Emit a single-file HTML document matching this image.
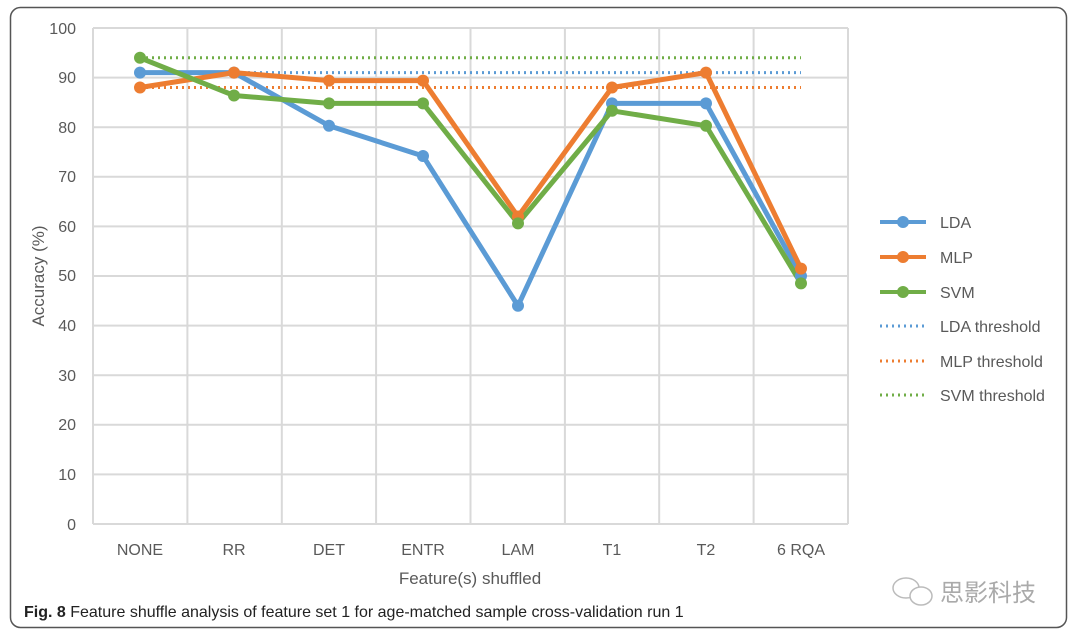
<!DOCTYPE html>
<html><head><meta charset="utf-8"><style>
body{margin:0;background:#fff;width:1080px;height:639px;overflow:hidden;font-family:"Liberation Sans","Noto Sans CJK SC",sans-serif}
</style></head><body>
<svg width="1080" height="639" xmlns="http://www.w3.org/2000/svg" font-family="Liberation Sans, Noto Sans CJK SC, sans-serif">
<rect x="10.5" y="7.5" width="1056" height="620" rx="10" fill="#fff" stroke="#555" stroke-width="1.5"/>
<g stroke="#d9d9d9" stroke-width="2" fill="none">
<line x1="93" y1="28" x2="848" y2="28"/><line x1="93" y1="77.6" x2="848" y2="77.6"/><line x1="93" y1="127.2" x2="848" y2="127.2"/><line x1="93" y1="176.8" x2="848" y2="176.8"/><line x1="93" y1="226.4" x2="848" y2="226.4"/><line x1="93" y1="276" x2="848" y2="276"/><line x1="93" y1="325.6" x2="848" y2="325.6"/><line x1="93" y1="375.2" x2="848" y2="375.2"/><line x1="93" y1="424.8" x2="848" y2="424.8"/><line x1="93" y1="474.4" x2="848" y2="474.4"/><line x1="93" y1="524" x2="848" y2="524"/>
<line x1="93" y1="28" x2="93" y2="524"/><line x1="187.4" y1="28" x2="187.4" y2="524"/><line x1="281.8" y1="28" x2="281.8" y2="524"/><line x1="376.1" y1="28" x2="376.1" y2="524"/><line x1="470.5" y1="28" x2="470.5" y2="524"/><line x1="564.9" y1="28" x2="564.9" y2="524"/><line x1="659.2" y1="28" x2="659.2" y2="524"/><line x1="753.6" y1="28" x2="753.6" y2="524"/><line x1="848" y1="28" x2="848" y2="524"/>
</g>
<g font-size="16" fill="#595959" text-anchor="end">
<text x="76" y="34">100</text><text x="76" y="83">90</text><text x="76" y="133">80</text><text x="76" y="182">70</text><text x="76" y="232">60</text><text x="76" y="281">50</text><text x="76" y="331">40</text><text x="76" y="381">30</text><text x="76" y="430">20</text><text x="76" y="480">10</text><text x="76" y="530">0</text>
</g>
<g font-size="16" fill="#595959" text-anchor="middle">
<text x="140" y="555">NONE</text><text x="234" y="555">RR</text><text x="329" y="555">DET</text><text x="423" y="555">ENTR</text><text x="518" y="555">LAM</text><text x="612" y="555">T1</text><text x="706" y="555">T2</text><text x="801" y="555">6 RQA</text>
<text x="470" y="584" font-size="17">Feature(s) shuffled</text>
<text transform="translate(44 276) rotate(-90)" font-size="17">Accuracy (%)</text>
</g>
<g stroke-width="3" stroke-dasharray="2 4" fill="none">
<line x1="140" y1="72.6" x2="801" y2="72.6" stroke="#5b9bd5"/>
<line x1="140" y1="87.5" x2="801" y2="87.5" stroke="#ed7d31"/>
<line x1="140" y1="57.8" x2="801" y2="57.8" stroke="#70ad47"/>
</g>
<g fill="none" stroke-width="5" stroke-linejoin="round">
<polyline stroke="#5b9bd5" points="140,72.6 234,72.6 329,125.7 423,155.968 518,305.8 612,103.4 706,103.4 801,276"/>
<polyline stroke="#ed7d31" points="140,87.5 234,72.6 329,80.6 423,80.6 518,216.5 612,87.5 706,72.6 801,268.6"/>
<polyline stroke="#70ad47" points="140,57.8 234,95.5 329,103.4 423,103.4 518,223.4 612,110.8 706,125.7 801,283.4"/>
</g>
<g fill="#5b9bd5"><circle cx="140" cy="72.6" r="6"/><circle cx="234" cy="72.6" r="6"/><circle cx="329" cy="125.7" r="6"/><circle cx="423" cy="156" r="6"/><circle cx="518" cy="305.8" r="6"/><circle cx="612" cy="103.4" r="6"/><circle cx="706" cy="103.4" r="6"/><circle cx="801" cy="276" r="6"/></g>
<g fill="#ed7d31"><circle cx="140" cy="87.5" r="6"/><circle cx="234" cy="72.6" r="6"/><circle cx="329" cy="80.6" r="6"/><circle cx="423" cy="80.6" r="6"/><circle cx="518" cy="216.5" r="6"/><circle cx="612" cy="87.5" r="6"/><circle cx="706" cy="72.6" r="6"/><circle cx="801" cy="268.6" r="6"/></g>
<g fill="#70ad47"><circle cx="140" cy="57.8" r="6"/><circle cx="234" cy="95.5" r="6"/><circle cx="329" cy="103.4" r="6"/><circle cx="423" cy="103.4" r="6"/><circle cx="518" cy="223.4" r="6"/><circle cx="612" cy="110.8" r="6"/><circle cx="706" cy="125.7" r="6"/><circle cx="801" cy="283.4" r="6"/></g>
<g stroke-width="4">
<line x1="880" y1="222" x2="926" y2="222" stroke="#5b9bd5"/><circle cx="903" cy="222" r="6" fill="#5b9bd5"/>
<line x1="880" y1="257" x2="926" y2="257" stroke="#ed7d31"/><circle cx="903" cy="257" r="6" fill="#ed7d31"/>
<line x1="880" y1="292" x2="926" y2="292" stroke="#70ad47"/><circle cx="903" cy="292" r="6" fill="#70ad47"/>
<g stroke-width="3" stroke-dasharray="2 4"><line x1="880" y1="326" x2="926" y2="326" stroke="#5b9bd5"/><line x1="880" y1="361" x2="926" y2="361" stroke="#ed7d31"/><line x1="880" y1="395" x2="926" y2="395" stroke="#70ad47"/></g>
</g>
<g font-size="16" fill="#595959">
<text x="940" y="228">LDA</text><text x="940" y="263">MLP</text><text x="940" y="298">SVM</text><text x="940" y="332">LDA threshold</text><text x="940" y="367">MLP threshold</text><text x="940" y="401">SVM threshold</text>
</g>
<text x="24" y="617" font-size="16" fill="#222"><tspan font-weight="bold">Fig. 8</tspan> Feature shuffle analysis of feature set 1 for age-matched sample cross-validation run 1</text>
<text x="940" y="601" font-size="24" fill="#aaa">思影科技</text>
<g fill="none" stroke="#bbb" stroke-width="1.5"><ellipse cx="906" cy="588" rx="13" ry="10"/><ellipse cx="921" cy="596" rx="11" ry="9" fill="#fff"/></g>
</svg>
</body></html>
